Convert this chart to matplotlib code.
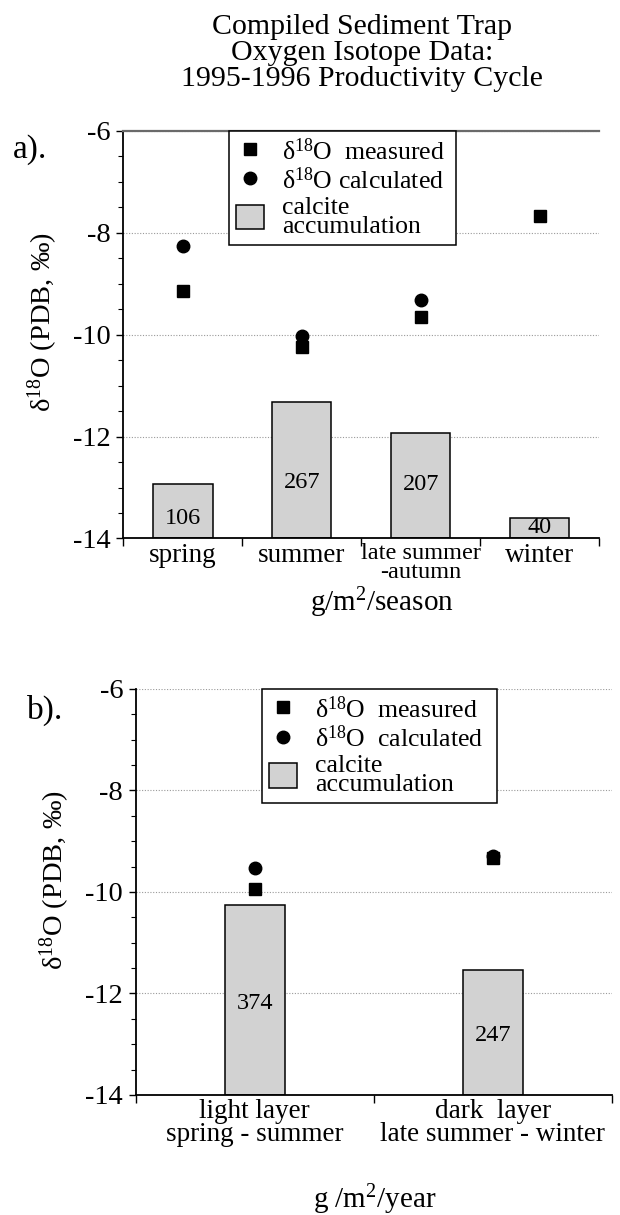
import numpy as np
import matplotlib
matplotlib.use('Agg')
import matplotlib.pyplot as plt
from matplotlib.ticker import MultipleLocator

plt.rcParams['font.family'] = ['Liberation Serif', 'DejaVu Serif']
plt.rcParams['mathtext.fontset'] = 'custom'
plt.rcParams['mathtext.rm'] = 'Liberation Serif'
plt.rcParams['mathtext.it'] = 'Liberation Serif:italic'
plt.rcParams['axes.unicode_minus'] = False

# panel a: seasons
seasons = ['spring', 'summer', 'late summer\n-autumn', 'winter']
measured_a = [-9.14, -10.25, -9.65, -7.67]
calculated_a = [-8.27, -10.03, -9.32, np.nan]
accum_a = [106, 267, 207, 40]          # g/m2/season
accum_label_y_a = [-13.6, -12.9, -12.95, -13.78]

# panel b: layers
layers = ['light layer\nspring - summer', 'dark  layer\nlate summer - winter']
measured_b = [-9.94, -9.33]
calculated_b = [-9.53, -9.30]
accum_b = [374, 247]                   # g/m2/year
accum_label_y_b = [-12.2, -12.82]

base = -14
scale = 100.0   # bar height = accumulation / 100 on the d18O axis

bar_col = '#d2d2d2'
grid_col = '#9a9a9a'

fig = plt.figure(figsize=(6.2, 12.15), dpi=100)
ax_a = fig.add_axes([0.1989, 0.5568, 0.7673, 0.3356])
ax_b = fig.add_axes([0.2189, 0.0988, 0.7682, 0.3342])


def draw_panel(ax, cats, meas, calc, acc, lab_y, width, xlabel, leg_x, leg_w,
               meas_lab, calc_lab, top_solid):
    x = np.arange(1, len(cats) + 1)
    heights = np.array(acc) / scale
    bars = ax.bar(x, heights, width, bottom=base, color=bar_col,
                  edgecolor='black', linewidth=1.1, zorder=2,
                  label='calcite\naccumulation')
    for xi, v, yy in zip(x, acc, lab_y):
        ax.text(xi, yy, str(v), ha='center', va='center', fontsize=17.5,
                zorder=3)
    sq, = ax.plot(x, meas, 's', color='black', ms=8, ls='none', zorder=4,
                  label=meas_lab)
    ci, = ax.plot(x, calc, 'o', color='black', ms=9, ls='none', zorder=4,
                  label=calc_lab)

    ax.set_xlim(0.5, len(cats) + 0.5)
    ax.set_ylim(-14, -6)
    ax.set_yticks([-14, -12, -10, -8, -6])
    ax.yaxis.set_minor_locator(MultipleLocator(0.5))
    ax.set_xticks(np.arange(0.5, len(cats) + 1, 1.0))
    ax.set_xticklabels([])
    ax.set_xticks(x, minor=True)
    ax.set_xticklabels(cats, minor=True)

    ax.tick_params(axis='y', which='major', direction='out', length=5,
                   width=1.0, labelsize=20.5, pad=4)
    ax.tick_params(axis='y', which='minor', direction='out', length=3.5,
                   width=0.8)
    ax.tick_params(axis='x', which='major', direction='out', length=6,
                   width=1.0)
    ax.tick_params(axis='x', which='minor', length=0, labelsize=19.5, pad=3)
    for t in ax.get_xticklabels(minor=True):
        t.set_linespacing(0.88)
        if 'autumn' in t.get_text():
            t.set_fontsize(17.5)

    ax.yaxis.grid(True, which='major', linestyle=(0, (1, 1.5)),
                  color=grid_col, linewidth=0.8, zorder=0)
    ax.set_axisbelow(True)

    for s in ['left', 'bottom']:
        ax.spines[s].set_linewidth(1.3)
    ax.spines['right'].set_visible(False)
    if top_solid:
        ax.spines['top'].set_color('#6a6a6a')
        ax.spines['top'].set_linewidth(1.6)
    else:
        ax.spines['top'].set_visible(False)

    ax.set_ylabel(r'$\mathrm{\delta}^{18}$O (PDB, ‰)', fontsize=20.5)
    ax.set_xlabel(xlabel, fontsize=21)

    leg = ax.legend(handles=[sq, ci, bars], loc='upper left',
                    bbox_to_anchor=(leg_x, 0.0, leg_w, 1.0), mode='expand',
                    borderaxespad=0, fontsize=18.5, frameon=True,
                    fancybox=False, edgecolor='black', framealpha=1,
                    handlelength=1.1, handleheight=1.1, handletextpad=0.7,
                    labelspacing=0.12, borderpad=0.28)
    leg.get_frame().set_linewidth(1.1)
    for t in leg.get_texts():
        t.set_linespacing(0.8)
    return ax


draw_panel(ax_a, seasons, measured_a, calculated_a, accum_a, accum_label_y_a,
           0.5, r'g/m$^2$/season', 0.2216, 0.4778,
           r'$\mathrm{\delta}^{18}$O  measured',
           r'$\mathrm{\delta}^{18}$O calculated', True)
draw_panel(ax_b, layers, measured_b, calculated_b, accum_b, accum_label_y_b,
           0.25, r'g /m$^2$/year', 0.2645, 0.4941,
           r'$\mathrm{\delta}^{18}$O  measured',
           r'$\mathrm{\delta}^{18}$O  calculated', False)

ax_a.yaxis.set_label_coords(-0.169, 0.531)
ax_a.xaxis.set_label_coords(0.544, -0.158)
ax_a.xaxis.label.set_va('center')
ax_b.yaxis.set_label_coords(-0.17, 0.53)
ax_b.xaxis.set_label_coords(0.502, -0.259)
ax_b.xaxis.label.set_va('center')
for a in (ax_a, ax_b):
    a.yaxis.label.set_va('center')

fig.text(362 / 620, 1 - 53 / 1215,
         'Compiled Sediment Trap\nOxygen Isotope Data:\n1995-1996 Productivity Cycle',
         ha='center', va='center', fontsize=21.5, linespacing=1.0)
fig.text(13 / 620, 1 - 150 / 1215, 'a).', ha='left', va='center', fontsize=24)
fig.text(27 / 620, 1 - 710 / 1215, 'b).', ha='left', va='center', fontsize=24)

fig.savefig('out.png', dpi=100)
